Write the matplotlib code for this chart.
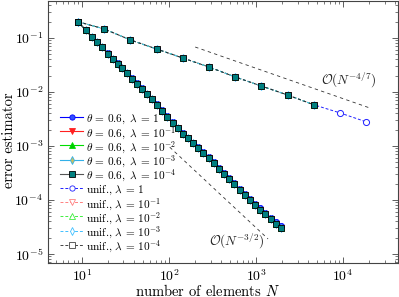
import matplotlib
matplotlib.use("Agg")
import matplotlib.pyplot as plt

plt.rcParams['font.family'] = 'serif'
plt.rcParams['font.serif'] = ['cmr10', 'DejaVu Serif']
plt.rcParams['mathtext.fontset'] = 'cm'
plt.rcParams['axes.unicode_minus'] = False
plt.rcParams['axes.formatter.use_mathtext'] = True

# ---- data ----
N_adapt = [9, 11, 13, 15, 17, 20, 23, 26, 29, 33, 38, 43, 49, 56, 64, 73, 84, 96,
           110, 126, 144, 165, 189, 217, 249, 285, 327, 375, 430, 493, 565, 648,
           743, 852, 977, 1120, 1284, 1472, 1688, 1935]
err_adapt_l1 = [0.20, 0.140, 0.106, 0.084, 0.068, 0.052, 0.041, 0.034, 0.028, 0.0225,
                0.0178, 0.0145, 0.0117, 0.0093, 0.0075, 0.0060, 0.0046, 0.00360,
                0.00280, 0.00218, 0.00175, 0.00142, 0.00116, 0.00095, 7.7e-4, 6.2e-4,
                4.95e-4, 3.95e-4, 3.17e-4, 2.53e-4, 2.03e-4, 1.62e-4, 1.30e-4, 1.04e-4,
                8.5e-5, 7.0e-5, 5.75e-5, 4.7e-5, 3.9e-5, 3.25e-5]
err_adapt_l4 = [0.20, 0.140, 0.105, 0.083, 0.067, 0.051, 0.040, 0.033, 0.0275, 0.022,
                0.0174, 0.0142, 0.0114, 0.0091, 0.0073, 0.0058, 0.0045, 0.00350,
                0.00272, 0.00212, 0.00170, 0.00138, 0.00113, 0.00093, 7.4e-4, 5.96e-4,
                4.75e-4, 3.8e-4, 3.04e-4, 2.42e-4, 1.94e-4, 1.55e-4, 1.24e-4, 9.9e-5,
                8.07e-5, 6.62e-5, 5.41e-5, 4.44e-5, 3.64e-5, 2.97e-5]

N_unif = [9, 18, 36, 72, 144, 288, 576, 1152, 2304, 4608, 9216, 18432]
err_unif_l1 = [0.20, 0.147, 0.092, 0.0625, 0.0426, 0.029, 0.019, 0.0129, 0.0088,
               0.0058, 0.0041, 0.0028]
N_unif_short = [9, 18, 36, 72, 144, 288, 576, 1152, 2304, 4608]
err_unif_short = [0.20, 0.147, 0.092, 0.0625, 0.0426, 0.029, 0.019, 0.0129, 0.0088,
                  0.0058]

guide47_N = [200, 20000]
guide47_err = [0.068, 0.0051]
guide32_N = [102, 1375]
guide32_err = [9.5e-4, 1.9e-5]

lambdas = ['1', '10^{-1}', '10^{-2}', '10^{-3}', '10^{-4}']
adapt_colors = ['#0000ff', '#ff2020', '#00dd00', '#33b0e8', '#555555']
adapt_mfc = ['#3050ff', '#ff2020', '#00cc00', '#c8c060', '#008080']
adapt_markers = ['o', 'v', '^', 'd', 's']
unif_colors = ['#2020ff', '#ff8080', '#40ee40', '#40c0ff', '#444444']

W, H = 399, 297
ax_l, ax_r, ax_b, ax_t = 48, 398, 263, 1   # axes box in pixels

fig = plt.figure(figsize=(W / 100, H / 100), dpi=100)
ax = fig.add_axes([ax_l / W, 1 - ax_b / H, (ax_r - ax_l) / W, (ax_b - ax_t) / H])

adapt_errs = [err_adapt_l1, err_adapt_l4, err_adapt_l4, err_adapt_l4, err_adapt_l4]
for i in range(5):
    ax.plot(N_adapt, adapt_errs[i], color=adapt_colors[i], lw=0.8,
            marker=adapt_markers[i], ms=4.4 if i == 0 else 3.8,
            mfc=adapt_mfc[i], mec=adapt_colors[i] if i < 4 else 'black', mew=0.6,
            zorder=3 + i)

# uniform refinements
ax.plot(N_unif, err_unif_l1, color=unif_colors[0], lw=0.7, ls=(0, (3, 2)),
        marker='o', ms=4.4, mfc='white', mec=unif_colors[0], mew=0.7, zorder=3)
for i in range(1, 4):
    ax.plot(N_unif_short, err_unif_short, color=unif_colors[i], lw=0.7,
            ls=(0, (3, 2)), marker=adapt_markers[i], ms=3.8, mfc='white',
            mec=unif_colors[i], mew=0.7, zorder=3)
ax.plot(N_unif_short, err_unif_short, color='#222222', lw=0.7, ls=(0, (3, 3)),
        marker='s', ms=3.8, mfc='#008080', mec='black', mew=0.6, zorder=9)

# guide lines
ax.plot(guide47_N, guide47_err, color='#333333', lw=0.6, ls=(0, (4, 4)))
ax.plot(guide32_N, guide32_err, color='#333333', lw=0.6, ls=(0, (4, 4)))
ax.text(5600, 0.0167, r'$\mathcal{O}(N^{-4/7})$', fontsize=9.5, ha='left',
        va='center', color='#222222')
ax.text(290, 1.74e-5, r'$\mathcal{O}(N^{-3/2})$', fontsize=9.5, ha='left',
        va='center', color='#222222')

ax.set_xscale('log')
ax.set_yscale('log')
ax.set_xlim(4.07, 42800)
ax.set_ylim(10 ** -5.167, 10 ** -0.315)
ax.set_xlabel(r'number of elements $N$', fontsize=10.5)
ax.xaxis.set_label_coords(0.457, -0.078)
ax.set_ylabel('error estimator', fontsize=10.5)
ax.yaxis.set_label_coords(-0.092, 0.47)
ax.tick_params(which='both', direction='in', top=True, right=True,
               labelsize=10, color='#444444')
ax.tick_params(which='major', length=4, width=0.6)
ax.tick_params(which='minor', length=2, width=0.5)
for s in ax.spines.values():
    s.set_color('#444444')
    s.set_linewidth(0.8)

# ---- legend (drawn in axes coordinates, no frame) ----
def ax_x(px):
    return (px - ax_l) / (ax_r - ax_l)

def ax_y(py):
    return (ax_b - py) / (ax_b - ax_t)

entries = []
for i in range(5):
    entries.append(dict(color=adapt_colors[i], ls='-', lw=0.8, marker=adapt_markers[i],
                        mfc=adapt_mfc[i], mec=adapt_colors[i] if i < 4 else 'black',
                        label=r'$\theta\,=\,0.6,\ \lambda\,=\,%s$' % lambdas[i]))
for i in range(5):
    entries.append(dict(color=unif_colors[i], ls=(0, (3, 2)), lw=0.7,
                        marker=adapt_markers[i], mfc='white', mec=unif_colors[i],
                        label=r'unif., $\lambda\,=\,%s$' % lambdas[i]))

y0, dy = 117, 14.2
for k, e in enumerate(entries):
    yy = ax_y(y0 + k * dy)
    ax.plot([ax_x(60), ax_x(83)], [yy, yy], transform=ax.transAxes, color=e['color'],
            ls=e['ls'], lw=e['lw'], clip_on=False, zorder=12)
    ax.plot([ax_x(71.5)], [yy], transform=ax.transAxes, ls='none',
            marker=e['marker'], ms=3.8, mfc=e['mfc'], mec=e['mec'], mew=0.6,
            clip_on=False, zorder=13)
    ax.text(ax_x(86), yy, e['label'], transform=ax.transAxes, fontsize=8.1,
            ha='left', va='center_baseline', zorder=13)

fig.savefig('out.png', dpi=100)
